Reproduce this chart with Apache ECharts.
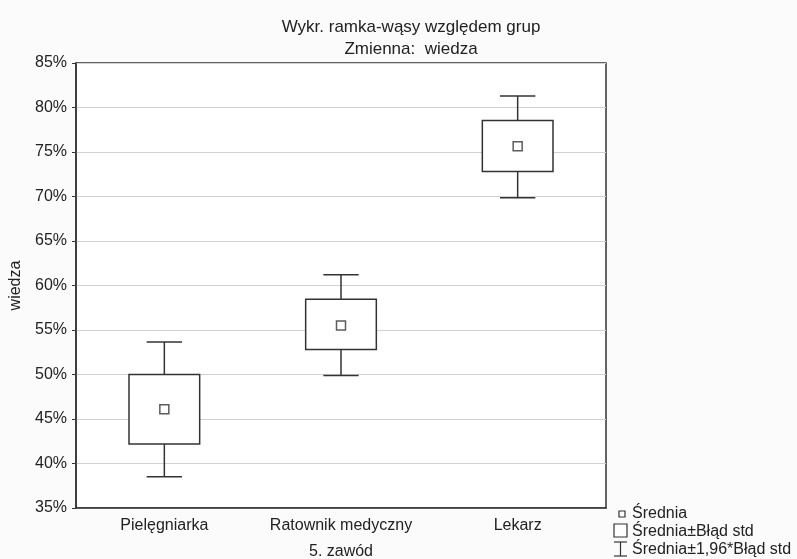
<!DOCTYPE html>
<html>
<head>
<meta charset="utf-8">
<script src="https://cdn.jsdelivr.net/npm/echarts@6/dist/echarts.min.js"></script>
<style>
  html, body { margin: 0; padding: 0; background: #fbfbfb; }
  #chart { width: 797px; height: 559px; }
</style>
</head>
<body>
<div id="chart"></div>
<script>
// groups on the x axis
var categories = ['Pielęgniarka', 'Ratownik medyczny', 'Lekarz'];
// mean of "wiedza" per group (%)
var means = [46.1, 55.5, 75.65];
// mean ± standard error (box)
var seLow = [42.2, 52.8, 72.8];
var seHigh = [50.0, 58.45, 78.55];
// mean ± 1.96 * standard error (whiskers)
var ciLow = [38.5, 49.9, 69.85];
var ciHigh = [53.65, 61.2, 81.3];
var yTicks = [35, 40, 45, 50, 55, 60, 65, 70, 75, 80, 85];

var font = '"Liberation Sans", Arial, sans-serif';
var ink = '#333';

var boxData = categories.map(function (c, i) { return [i, seLow[i], seHigh[i]]; });
var whiskerData = categories.map(function (c, i) { return [i, ciLow[i], ciHigh[i]]; });
var meanData = categories.map(function (c, i) { return [i, means[i]]; });

var chart = echarts.init(document.getElementById('chart'));

var option = {
  backgroundColor: '#fbfbfb',
  animation: false,
  textStyle: { fontFamily: font },
  title: {
    text: 'Wykr. ramka-wąsy względem grup\nZmienna:  wiedza',
    left: 406,
    top: 11,
    textAlign: 'center',
    textStyle: { fontFamily: font, fontSize: 17, fontWeight: 'normal', color: '#222', lineHeight: 22 }
  },
  grid: {
    left: 76, right: 191, top: 63, bottom: 51,
    containLabel: false,
    outerBoundsMode: 'none',
    show: true, borderColor: ink, borderWidth: 1.5, backgroundColor: '#fff'
  },
  xAxis: {
    type: 'category',
    data: categories,
    name: '5. zawód',
    nameLocation: 'middle',
    nameGap: 36,
    nameTextStyle: { fontFamily: font, fontSize: 16, color: '#222' },
    axisLine: { lineStyle: { color: ink, width: 1.5 } },
    axisTick: { inside: true, length: 4, alignWithLabel: true, lineStyle: { color: ink } },
    axisLabel: { interval: 0, fontFamily: font, fontSize: 16, color: '#222', margin: 10 },
    splitLine: { show: false }
  },
  yAxis: {
    type: 'value',
    min: yTicks[0],
    max: yTicks[yTicks.length - 1],
    interval: 5,
    name: 'wiedza',
    nameLocation: 'middle',
    nameGap: 47,
    nameTextStyle: { fontFamily: font, fontSize: 16, color: '#222' },
    axisLine: { show: true, lineStyle: { color: ink, width: 1.5 } },
    axisTick: { show: true, length: 4, lineStyle: { color: ink } },
    axisLabel: { fontFamily: font, fontSize: 16, color: '#222', margin: 9, formatter: '{value}%' },
    splitLine: { show: true, lineStyle: { color: '#d2d2d2', width: 1 } }
  },
  series: [
    {
      name: 'Średnia±1,96*Błąd std',
      type: 'custom',
      data: whiskerData,
      encode: { x: 0, y: [1, 2] },
      z: 2,
      renderItem: function (params, api) {
        var lo = api.coord([api.value(0), api.value(1)]);
        var hi = api.coord([api.value(0), api.value(2)]);
        var cw = api.size([1, 0])[0] * 0.2;
        var st = { stroke: ink, lineWidth: 1.5 };
        return {
          type: 'group',
          children: [
            { type: 'line', shape: { x1: lo[0], y1: lo[1], x2: hi[0], y2: hi[1] }, style: st },
            { type: 'line', shape: { x1: hi[0] - cw / 2, y1: hi[1], x2: hi[0] + cw / 2, y2: hi[1] }, style: st },
            { type: 'line', shape: { x1: lo[0] - cw / 2, y1: lo[1], x2: lo[0] + cw / 2, y2: lo[1] }, style: st }
          ]
        };
      }
    },
    {
      name: 'Średnia±Błąd std',
      type: 'custom',
      data: boxData,
      encode: { x: 0, y: [1, 2] },
      z: 3,
      renderItem: function (params, api) {
        var lo = api.coord([api.value(0), api.value(1)]);
        var hi = api.coord([api.value(0), api.value(2)]);
        var bw = api.size([1, 0])[0] * 0.4;
        return {
          type: 'rect',
          shape: { x: lo[0] - bw / 2, y: hi[1], width: bw, height: lo[1] - hi[1] },
          style: { fill: '#fff', stroke: ink, lineWidth: 1.5 }
        };
      }
    },
    {
      name: 'Średnia',
      type: 'scatter',
      data: meanData,
      symbol: 'rect',
      symbolSize: 9,
      z: 4,
      itemStyle: { color: '#fff', borderColor: ink, borderWidth: 1.5 }
    }
  ],
  graphic: [
    { type: 'rect', shape: { x: 619, y: 511, width: 6, height: 6 }, style: { fill: '#fff', stroke: ink, lineWidth: 1.2 } },
    { type: 'text', x: 632, y: 514, style: { text: 'Średnia', font: '16px ' + font, fill: '#222', textVerticalAlign: 'middle' } },
    { type: 'rect', shape: { x: 614, y: 524, width: 13, height: 13 }, style: { fill: '#fff', stroke: ink, lineWidth: 1.2 } },
    { type: 'text', x: 632, y: 532, style: { text: 'Średnia±Błąd std', font: '16px ' + font, fill: '#222', textVerticalAlign: 'middle' } },
    { type: 'line', shape: { x1: 620.5, y1: 542, x2: 620.5, y2: 556 }, style: { stroke: ink, lineWidth: 1.2 } },
    { type: 'line', shape: { x1: 614, y1: 542, x2: 627, y2: 542 }, style: { stroke: ink, lineWidth: 1.2 } },
    { type: 'line', shape: { x1: 614, y1: 556, x2: 627, y2: 556 }, style: { stroke: ink, lineWidth: 1.2 } },
    { type: 'text', x: 632, y: 550, style: { text: 'Średnia±1,96*Błąd std', font: '16px ' + font, fill: '#222', textVerticalAlign: 'middle' } }
  ]
};

chart.setOption(option);
</script>
</body>
</html>
